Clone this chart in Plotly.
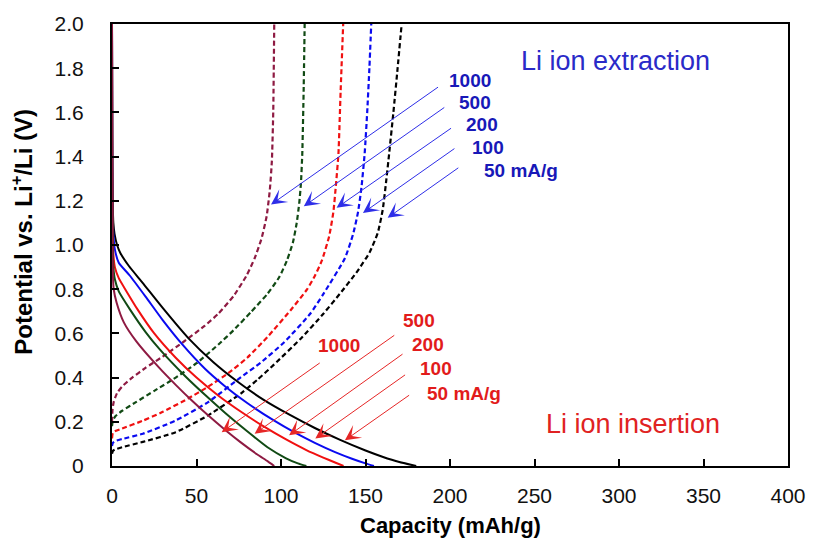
import plotly.graph_objects as go

# ---------------- data ----------------
rates = ["50", "100", "200", "500", "1000"]
colors = ["#000000", "#0A0AF0", "#F01010", "#114A14", "#8E1A42"]

# Li ion insertion (solid lines): capacity (mAh/g) and potential (V)
ins_cap_50 = [0, 0.15, 0.4, 0.8, 1.5, 3, 5, 10, 18, 30, 45, 60, 75, 90, 105, 120, 135, 150, 160, 170, 180]
ins_v_50 = [2.0, 1.5, 1.2, 1.1, 1.05, 1.0, 0.963, 0.905, 0.83, 0.715, 0.58, 0.47, 0.378, 0.298, 0.232, 0.172, 0.118, 0.07, 0.042, 0.018, 0]
ins_cap_100 = [0, 0.15, 0.4, 0.8, 1.7, 4, 10.5, 20, 30, 41.6, 55, 67, 80, 96, 108, 120, 132, 142, 150, 155]
ins_v_100 = [2.0, 1.45, 1.15, 1.05, 0.98, 0.92, 0.862, 0.765, 0.66, 0.55, 0.44, 0.36, 0.285, 0.205, 0.152, 0.105, 0.063, 0.033, 0.012, 0]
ins_cap_200 = [0, 0.15, 0.4, 0.8, 1.7, 4, 8.6, 15, 25, 37.7, 50, 63, 77, 90, 103, 115, 125, 132, 137]
ins_v_200 = [2.0, 1.4, 1.08, 0.96, 0.9, 0.85, 0.79, 0.71, 0.6, 0.49, 0.40, 0.318, 0.242, 0.178, 0.12, 0.072, 0.038, 0.016, 0]
ins_cap_500 = [0, 0.15, 0.4, 0.8, 1.7, 4, 10.5, 20, 28, 43.5, 55, 67, 80, 92, 103, 110, 115]
ins_v_500 = [2.0, 1.3, 1.0, 0.9, 0.845, 0.79, 0.71, 0.605, 0.53, 0.405, 0.322, 0.24, 0.157, 0.085, 0.035, 0.012, 0]
ins_cap_1000 = [0, 0.15, 0.4, 1, 2.7, 7, 14.4, 28, 38, 47.4, 57, 67, 76, 86, 92, 96]
ins_v_1000 = [2.0, 1.2, 0.9, 0.8, 0.74, 0.65, 0.564, 0.444, 0.365, 0.295, 0.228, 0.163, 0.108, 0.052, 0.022, 0]

# Li ion extraction (dashed lines)
ext_cap_50 = [0, 0.5, 2, 6, 18.3, 37.7, 57.1, 76.6, 86.3, 96, 111.5, 125.2, 134.9, 144.6, 152.4, 157.3, 160.2, 162.1, 164, 166.5, 169, 171.4]
ext_v_50 = [0.055, 0.068, 0.075, 0.085, 0.109, 0.153, 0.23, 0.33, 0.392, 0.46, 0.575, 0.69, 0.78, 0.875, 0.966, 1.056, 1.16, 1.28, 1.414, 1.6, 1.8, 2.0]
ext_cap_100 = [0, 0.5, 2, 6, 18.3, 37.7, 57.1, 74.6, 88, 101.9, 117.4, 125.2, 137.8, 142.7, 145.6, 147.6, 149.5, 151, 152.3, 153.4]
ext_v_100 = [0.09, 0.105, 0.113, 0.122, 0.146, 0.206, 0.29, 0.392, 0.468, 0.56, 0.69, 0.78, 0.94, 1.05, 1.15, 1.26, 1.414, 1.6, 1.8, 2.0]
ext_cap_200 = [0, 0.5, 2, 6, 18.3, 30, 45, 57.1, 68.8, 80, 92.1, 105.7, 115.5, 120, 124.2, 128.5, 131, 132.6, 134, 135.3, 136.8]
ext_v_200 = [0.125, 0.15, 0.158, 0.17, 0.205, 0.245, 0.305, 0.36, 0.42, 0.49, 0.585, 0.705, 0.80, 0.86, 0.93, 1.04, 1.15, 1.28, 1.414, 1.7, 2.0]
ext_cap_500 = [0, 0.5, 2, 6, 14.4, 25, 37.7, 50, 63, 72, 82.4, 92.1, 99, 103.5, 107, 109.3, 110.8, 111.8, 112.6, 113.4, 114]
ext_v_500 = [0.18, 0.205, 0.225, 0.25, 0.29, 0.34, 0.40, 0.465, 0.55, 0.615, 0.698, 0.78, 0.855, 0.93, 1.01, 1.1, 1.19, 1.28, 1.414, 1.7, 2.0]
ext_cap_1000 = [0, 0.3, 1, 3, 6, 12, 20, 30, 42, 55, 63, 72, 79.5, 84.4, 88.5, 91.5, 93.4, 94.6, 95.4, 96]
ext_v_1000 = [0.2, 0.255, 0.29, 0.33, 0.36, 0.40, 0.445, 0.495, 0.56, 0.635, 0.69, 0.77, 0.86, 0.94, 1.03, 1.13, 1.25, 1.38, 1.6, 2.0]

ins_caps = [ins_cap_50, ins_cap_100, ins_cap_200, ins_cap_500, ins_cap_1000]
ins_vs = [ins_v_50, ins_v_100, ins_v_200, ins_v_500, ins_v_1000]
ext_caps = [ext_cap_50, ext_cap_100, ext_cap_200, ext_cap_500, ext_cap_1000]
ext_vs = [ext_v_50, ext_v_100, ext_v_200, ext_v_500, ext_v_1000]

x_ticks = [0, 50, 100, 150, 200, 250, 300, 350, 400]
y_ticks = [0, 0.2, 0.4, 0.6, 0.8, 1.0, 1.2, 1.4, 1.6, 1.8, 2.0]
y_ticktext = ["0", "0.2", "0.4", "0.6", "0.8", "1.0", "1.2", "1.4", "1.6", "1.8", "2.0"]

# arrow annotations: label, text pos, arrow tail, arrow tip (data coords)
ext_labels = ["1000", "500", "200", "100", "50 mA/g"]
ext_label_pos = [(212.0, 1.745), (214.6, 1.647), (218.7, 1.544), (222.2, 1.441), (218.8, 1.336)]
ext_tails = [(193.8, 1.719), (197.5, 1.627), (201.5, 1.533), (203.5, 1.441), (205.8, 1.354)]
ext_tips = [(94.1, 1.183), (113.5, 1.175), (132.9, 1.168), (148.5, 1.145), (163.1, 1.123)]

ins_labels = ["1000", "500", "200", "100", "50 mA/g"]
ins_label_pos = [(134.1, 0.546), (181.9, 0.658), (187.2, 0.550), (191.5, 0.441), (185.4, 0.327)]
ins_tails = [(123.8, 0.471), (167.9, 0.596), (172.8, 0.511), (174.3, 0.417), (176.7, 0.325)]
ins_tips = [(64.9, 0.153), (84.4, 0.146), (104.8, 0.139), (120.3, 0.124), (137.8, 0.116)]

FONT = "Liberation Sans, Arial, sans-serif"
BLUE_TXT = "#1818B8"
RED_TXT = "#E21B1B"

fig = go.Figure()

for i in range(len(rates)):
    fig.add_trace(go.Scatter(
        x=ext_caps[i], y=ext_vs[i], mode="lines",
        line=dict(color=colors[i], width=2.2, dash="5px,3px", shape="spline", smoothing=0.5),
        name=rates[i] + " extraction", showlegend=False, hoverinfo="skip"))
for i in range(len(rates)):
    fig.add_trace(go.Scatter(
        x=ins_caps[i], y=ins_vs[i], mode="lines",
        line=dict(color=colors[i], width=2, shape="spline", smoothing=0.5),
        name=rates[i] + " insertion", showlegend=False, hoverinfo="skip"))

annotations = []
for lab, pos in zip(ext_labels, ext_label_pos):
    anchor = "left" if "mA" in lab else "center"
    annotations.append(dict(x=pos[0], y=pos[1], xref="x", yref="y", text="<b>%s</b>" % lab,
                            showarrow=False, xanchor=anchor, yanchor="middle",
                            font=dict(family=FONT, size=19, color=BLUE_TXT)))
for tail, tip in zip(ext_tails, ext_tips):
    annotations.append(dict(x=tip[0], y=tip[1], ax=tail[0], ay=tail[1], xref="x", yref="y",
                            axref="x", ayref="y", text="", showarrow=True, arrowhead=3,
                            arrowsize=2.6, arrowwidth=1, arrowcolor="#2E2EE8"))
for lab, pos in zip(ins_labels, ins_label_pos):
    anchor = "left" if "mA" in lab else "center"
    annotations.append(dict(x=pos[0], y=pos[1], xref="x", yref="y", text="<b>%s</b>" % lab,
                            showarrow=False, xanchor=anchor, yanchor="middle",
                            font=dict(family=FONT, size=19, color=RED_TXT)))
for tail, tip in zip(ins_tails, ins_tips):
    annotations.append(dict(x=tip[0], y=tip[1], ax=tail[0], ay=tail[1], xref="x", yref="y",
                            axref="x", ayref="y", text="", showarrow=True, arrowhead=3,
                            arrowsize=2.6, arrowwidth=1, arrowcolor="#E62626"))

annotations.append(dict(x=240.8, y=1.834, xref="x", yref="y", text="Li ion extraction",
                        showarrow=False, xanchor="left", yanchor="middle",
                        font=dict(family=FONT, size=27, color="#2A2AC8")))
annotations.append(dict(x=255.4, y=0.188, xref="x", yref="y", text="Li ion insertion",
                        showarrow=False, xanchor="left", yanchor="middle",
                        font=dict(family=FONT, size=27, color="#E02222")))

annotations.append(dict(x=0.5, y=0, xref="paper", yref="paper", yshift=-59,
                        text="<b>Capacity (mAh/g)</b>", showarrow=False,
                        xanchor="center", yanchor="middle",
                        font=dict(family=FONT, size=22, color="#000000")))
annotations.append(dict(x=0, y=0.53, xref="paper", yref="paper", xshift=-90,
                        text="<b>Potential vs. Li<sup>+</sup>/Li (V)</b>", showarrow=False,
                        textangle=-90, xanchor="center", yanchor="middle",
                        font=dict(family=FONT, size=24, color="#000000")))

fig.update_layout(
    width=818, height=541,
    margin=dict(l=112, r=20, t=19, b=75),
    paper_bgcolor="white", plot_bgcolor="white",
    showlegend=False,
    annotations=annotations,
    xaxis=dict(range=[0, 400], tickvals=x_ticks, ticks="inside", ticklen=7, tickwidth=1.5,
               tickcolor="black", showline=True, linecolor="black", linewidth=2, mirror=True,
               showgrid=False, zeroline=False, ticklabelstandoff=10,
               tickfont=dict(family=FONT, size=21, color="#111111")),
    yaxis=dict(range=[0, 2.0], tickvals=y_ticks, ticktext=y_ticktext, ticks="inside", ticklen=7,
               tickwidth=1.5, tickcolor="black", showline=True, linecolor="black", linewidth=2,
               mirror=True, showgrid=False, zeroline=False, ticklabelstandoff=22,
               tickfont=dict(family=FONT, size=21, color="#111111")),
)

fig.write_html("out.html")
